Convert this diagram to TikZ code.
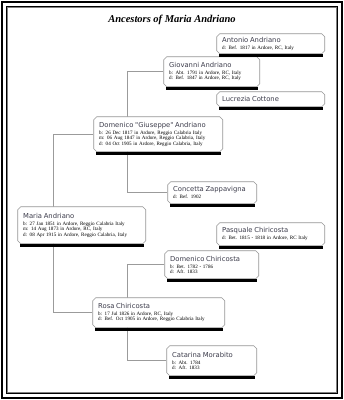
\documentclass[tikz,border=0pt]{standalone}
\usepackage{fontspec}
\setmainfont{Liberation Serif}
\newfontfamily\namefont{DejaVu Sans}
\usetikzlibrary{shapes.misc,calc}
\definecolor{namecol}{RGB}{60,60,75}
\definecolor{boxline}{RGB}{150,150,150}
\definecolor{linkcol}{RGB}{155,155,155}
\pgfdeclarelayer{bg}
\pgfsetlayers{bg,main}
\newcommand{\pname}[1]{{\namefont\fontsize{6.8}{7}\selectfont\color{namecol}#1}}
\tikzset{
  person/.style 2 args={draw=boxline, line width=0.6pt, fill=white,
    chamfered rectangle, chamfered rectangle xsep=1.5pt, chamfered rectangle ysep=1.5pt,
    anchor=north west, inner xsep=4pt, inner ysep=0pt,
    text width=#1, minimum height=#2, align=left,
    font=\fontsize{5.1}{5.4}\selectfont},
  link/.style={draw=linkcol, line width=0.6pt},
  shadowbar/.style={fill=black}
}
\begin{document}
\begin{tikzpicture}[x=1pt,y=-1pt]
\useasboundingbox (0,0) rectangle (344,400);
% frame
\draw[line width=1.5pt] (1.8,1.8) rectangle (341.8,397.8);
\draw[line width=1.3pt] (6.3,6.3) rectangle (337.5,393.5);
\draw[gray, line width=0.5pt] (7.6,7.6) rectangle (336.2,392.2);
% title
\node (title) at (172,20) {\fontsize{10.5}{12}\selectfont\bfseries\itshape Ancestors of Maria Andriano};
% people
\node[person={97pt}{20pt}] (anton) at (218,35) {\pname{Antonio Andriano}\\[1.6pt]d: Bef. 1817 in Ardore, RC, Italy};
\node[person={85pt}{30pt}] (giov) at (165,58) {\pname{Giovanni Andriano}\\[1.6pt]b: Abt. 1791 in Ardore, RC, Italy\\d: Bef. 1847 in Ardore, RC, Italy};
\node[person={97pt}{15pt}] (lucr) at (218,93) {\pname{Lucrezia Cottone}};
\node[person={118pt}{35pt}] (dg) at (95,118) {\pname{Domenico "Giuseppe" Andriano}\\[1.6pt]b: 26 Dec 1817 in Ardore, Reggio Calabria Italy\\m: 06 Aug 1847 in Ardore, Reggio Calabria, Italy\\d: 04 Oct 1905 in Ardore, Reggio Calabria, Italy};
\node[person={78pt}{22pt}] (conc) at (169,183) {\pname{Concetta Zappavigna}\\[1.6pt]d: Bef. 1902};
\node[person={117pt}{37pt}] (maria) at (19,208) {\pname{Maria Andriano}\\[1.6pt]b: 27 Jan 1851 in Ardore, Reggio Calabria Italy\\m: 14 Aug 1873 in Ardore, RC, Italy\\d: 08 Apr 1915 in Ardore, Reggio Calabria, Italy};
\node[person={97pt}{23pt}] (pasq) at (218,224) {\pname{Pasquale Chiricosta}\\[1.6pt]d: Bet. 1815 - 1818 in Ardore, RC Italy};
\node[person={83pt}{28pt}] (domc) at (166,252) {\pname{Domenico Chiricosta}\\[1.6pt]b: Bet. 1782 - 1786\\d: Aft. 1833};
\node[person={121pt}{30pt}] (rosa) at (94,299) {\pname{Rosa Chiricosta}\\[1.6pt]b: 17 Jul 1826 in Ardore, RC, Italy\\d: Bef. Oct 1905 in Ardore, Reggio Calabria Italy};
\node[person={79pt}{30pt}] (cat) at (168,347) {\pname{Catarina Morabito}\\[1.6pt]b: Abt. 1784\\d: Aft. 1833};
% shadow bars
\foreach \n in {anton,giov,lucr,dg,conc,maria,pasq,domc,rosa,cat}{
  \fill[shadowbar] ($(\n.west |- \n.south)+(3,-0.3)$) rectangle ($(\n.east |- \n.south)+(-2,2.7)$);
}
% connectors
\begin{pgfonlayer}{bg}
\draw[link] (dg.west) -- ++(-40,0) |- (rosa.west);
\draw[link] (giov.west) -| ($(dg.west)+(34,0)$) |- (conc.west);
\draw[link] (domc.west) -| ($(rosa.west)+(35,0)$) |- (cat.west);
\end{pgfonlayer}
\end{tikzpicture}
\end{document}
